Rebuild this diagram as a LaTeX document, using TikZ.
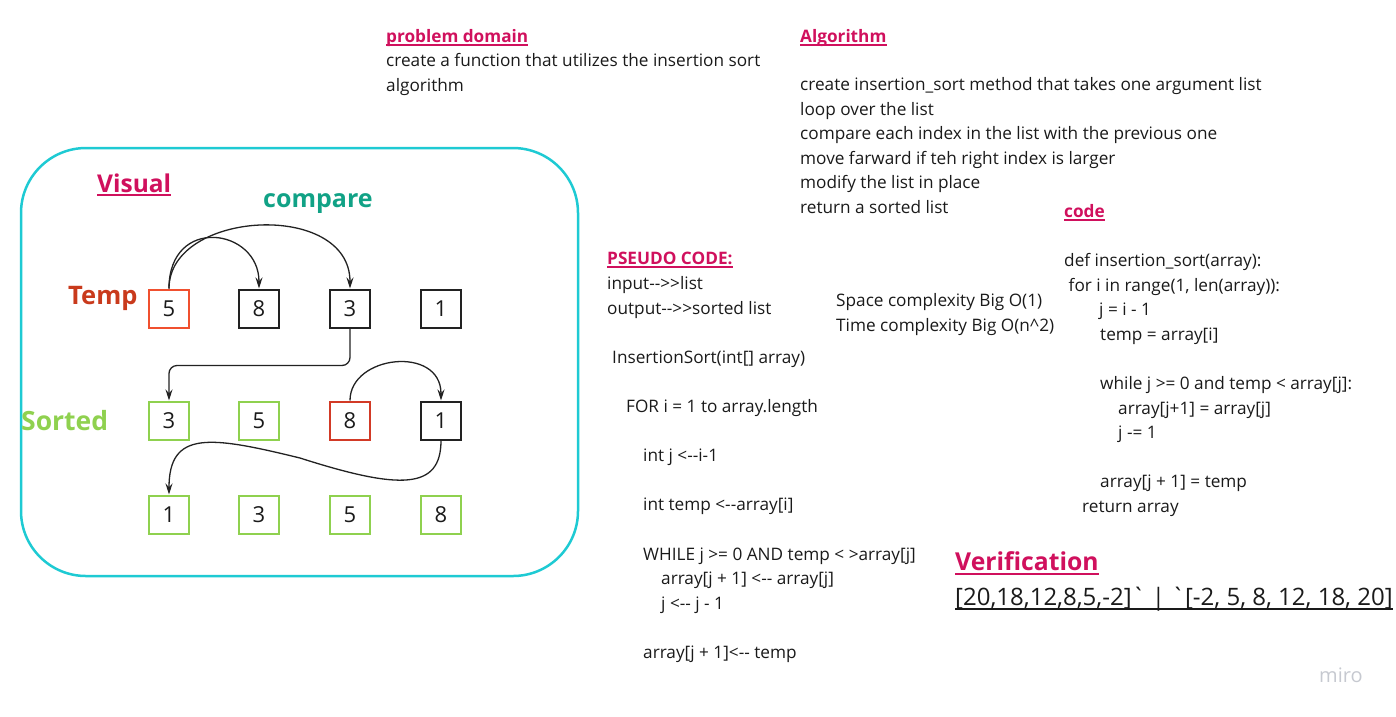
\documentclass[tikz,border=0pt]{standalone}
\usepackage{fontspec}
\setmainfont{Open Sans}[Ligatures=TeXOff]
\usepackage{tikz}
\usetikzlibrary{
    arrows.meta,
    positioning
}
\definecolor{headpink}{HTML}{D0105D}
\definecolor{cmpteal}{HTML}{11A286}
\definecolor{tempred}{HTML}{C93A1C}
\definecolor{sortgreen}{HTML}{8FD14F}
\definecolor{boxred}{HTML}{F0502F}
\definecolor{boxdeepred}{HTML}{D23A26}
\definecolor{boxdark}{HTML}{222222}
\definecolor{panelcyan}{HTML}{1ECAD3}
\definecolor{txtdark}{HTML}{1A1A1A}
\definecolor{miroGray}{HTML}{C6C9D0}

\begin{document}
\begin{tikzpicture}[
    x=1pt, y=-1pt,
    cell/.style={draw, line width=2pt, minimum width=40pt, minimum height=38pt, inner sep=0pt, text=txtdark, font=\fontsize{22}{26}\selectfont},
    plain/.style={cell, draw=boxdark},
    hot/.style={cell, draw=boxred},
    hotter/.style={cell, draw=boxdeepred},
    done/.style={cell, draw=sortgreen},
    conn/.style={-{Stealth[length=11pt,width=7pt]}, line width=1.3pt, boxdark},
    head/.style={anchor=base west, inner sep=0pt, text=headpink, font=\bfseries\fontsize{17.2}{24.6}\selectfont},
    body/.style={anchor=base west, inner sep=0pt, align=left, text=txtdark, font=\fontsize{17.2}{24.6}\selectfont},
    tag/.style={anchor=base west, inner sep=0pt, font=\bfseries\fontsize{25}{28}\selectfont},
    uline/.style={line width=1.8pt, headpink},
]
    \useasboundingbox (0,0) rectangle (1396,716);

    % Visual panel
    \node[draw=panelcyan, line width=2.5pt, rounded corners=65pt, minimum width=557pt, minimum height=428pt] (panel) at (299.5,362) {};
    \node[tag, text=headpink, font=\bfseries\fontsize{24.5}{28}\selectfont] (visual) at (97,192) {Visual};
    \draw[uline] ([yshift=-3pt]visual.base west) -- ([yshift=-3pt]visual.base east);
    \node[tag, text=cmpteal] (compare) at (263,207) {compare};
    \node[tag, text=tempred, font=\bfseries\fontsize{25.5}{28}\selectfont] (temp) at (68,304) {Temp};
    \node[tag, text=sortgreen, font=\bfseries\fontsize{26.5}{28}\selectfont] (sorted) at (21,430) {Sorted};

    % first pass
    \node[hot] (t1) at (169,308.5) {5};
    \node[plain] (t2) at (259,308.5) {8};
    \node[plain] (t3) at (350,308.5) {3};
    \node[plain] (t4) at (441,308.5) {1};

    % second pass
    \node[done] (s1) at (169,420.5) {3};
    \node[done] (s2) at (259,420.5) {5};
    \node[hotter] (s3) at (350,420.5) {8};
    \node[plain] (s4) at (441,420.5) {1};

    % result
    \node[done] (r1) at (169,514.5) {1};
    \node[done] (r2) at (259,514.5) {3};
    \node[done] (r3) at (350,514.5) {5};
    \node[done] (r4) at (441,514.5) {8};

    \draw[conn] (t1.north) .. controls (169,215) and (259,228) .. (t2.north);
    \draw[conn] (t1.north) .. controls (169,210) and (350,200) .. (t3.north);
    \draw[conn, rounded corners=8pt] (t3.south) -- ++(0,37) -| (s1.north);
    \draw[conn] (s3.north) .. controls (350,355) and (441,345) .. (s4.north);
    \draw[conn] (s4.south) .. controls (441,490) and (400,490) .. (300,458) .. controls (210,436) and (169,430) .. (r1.north);

    % problem domain
    \node[head] (pdhead) at (386,42) {problem domain};
    \draw[uline] ([yshift=-3pt]pdhead.base west) -- ([yshift=-3pt]pdhead.base east);
    \node[body] (pdtext) at (386,91.5) {create a function that utilizes the insertion sort\\algorithm};

    % algorithm
    \node[head] (alghead) at (800,42) {Algorithm};
    \draw[uline] ([yshift=-3pt]alghead.base west) -- ([yshift=-3pt]alghead.base east);
    \node[body] (algtext) at (800,213.5) {create insertion\_sort method that takes one argument list\\
        loop over the list\\
        compare each index in the list with the previous one\\
        move farward if teh right index is larger\\
        modify the list in place\\
        return a sorted list};

    % pseudo code
    \node[head] (pshead) at (607,264) {PSEUDO CODE:};
    \draw[uline] ([yshift=-3pt]pshead.base west) -- ([yshift=-3pt]pshead.base east);
    \node[body] (pstext) at (607,658.5) {input-->>list\\
        output-->>sorted list\\[24.6pt]
        \hspace*{5pt}InsertionSort(int[] array)\\[24.6pt]
        \hspace*{19pt}FOR i = 1 to array.length\\[24.6pt]
        \hspace*{36pt}int j <--i-1\\[24.6pt]
        \hspace*{36pt}int temp <--array[i]\\[24.6pt]
        \hspace*{36pt}WHILE j >= 0 AND temp < >array[j]\\
        \hspace*{54pt}array[j + 1] <-- array[j]\\
        \hspace*{54pt}j <-- j - 1\\[24.6pt]
        \hspace*{36pt}array[j + 1]<-- temp};

    \node[body] (bigo) at (836,331.5) {Space complexity Big O(1)\\Time complexity Big O(n\textasciicircum 2)};

    % code
    \node[head] (codehead) at (1064,217) {code};
    \draw[uline] ([yshift=-3pt]codehead.base west) -- ([yshift=-3pt]codehead.base east);
    \node[body] (codetext) at (1064,512.5) {def insertion\_sort(array):\\
        \hspace*{4.5pt}for i in range(1, len(array)):\\
        \hspace*{35pt}j = i - 1\\
        \hspace*{36pt}temp = array[i]\\[24.6pt]
        \hspace*{36pt}while j >= 0 and temp < array[j]:\\
        \hspace*{54pt}array[j+1] = array[j]\\
        \hspace*{54pt}j -= 1\\[24.6pt]
        \hspace*{36pt}array[j + 1] = temp\\
        \hspace*{18pt}return array};

    % verification
    \node[tag, text=headpink, font=\bfseries\fontsize{24.7}{28}\selectfont] (verhead) at (955,570) {Verification};
    \draw[uline, line width=2pt] ([yshift=-4pt]verhead.base west) -- ([yshift=-4pt]verhead.base east);
    \node[body, font=\fontsize{24}{28}\selectfont] (vertext) at (955,605) {[20,18,12,8,5,-2]` | `[-2, 5, 8, 12, 18, 20]};
    \draw[uline, txtdark] ([yshift=-4pt]vertext.base west) -- ([yshift=-4pt]vertext.base east);

    \node[anchor=base west, inner sep=0pt, text=miroGray, font=\fontsize{20}{24}\selectfont] (miro) at (1319,682) {miro};
\end{tikzpicture}
\end{document}
